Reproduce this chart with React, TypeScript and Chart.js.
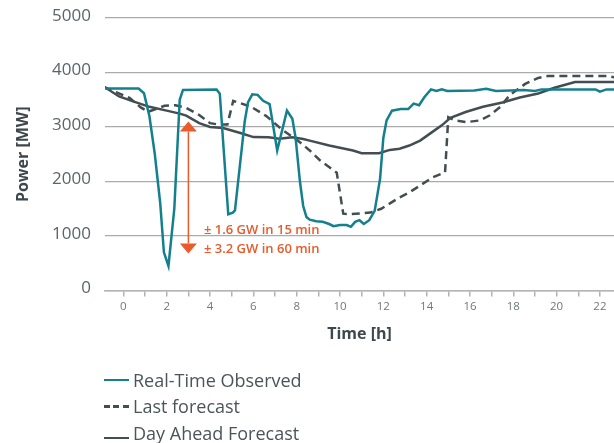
import React, { useEffect, useRef } from "react";
import { Chart, registerables } from "chart.js";

Chart.register(...registerables);

// ---- Data (hours, MW) ----
const rtHours = [-0.9, 0.7, 0.95, 1.2, 1.45, 1.7, 1.87, 2.08, 2.35, 2.6, 2.75, 4.3, 4.45, 4.6, 4.84, 5.05, 5.15, 5.6, 5.75, 5.95, 6.2, 6.45, 6.75, 7.1, 7.55, 7.8, 7.95, 8.15, 8.3, 8.45, 8.6, 8.9, 9.2, 9.5, 9.7, 10.0, 10.3, 10.5, 10.7, 10.9, 11.1, 11.35, 11.6, 11.85, 12.0, 12.15, 12.4, 12.8, 13.15, 13.4, 13.65, 13.9, 14.2, 14.45, 14.7, 14.95, 16.2, 16.75, 17.2, 18.5, 19.0, 19.3, 21.8, 22.0, 22.3, 22.7];
const rtValues = [3705, 3705, 3620, 3200, 2500, 1600, 700, 450, 1500, 3500, 3680, 3690, 3610, 2750, 1400, 1430, 1470, 3100, 3450, 3600, 3590, 3480, 3420, 2570, 3300, 3150, 2800, 2000, 1550, 1350, 1300, 1270, 1260, 1220, 1180, 1200, 1200, 1170, 1260, 1290, 1220, 1290, 1460, 2050, 2800, 3120, 3300, 3330, 3330, 3430, 3400, 3550, 3690, 3660, 3690, 3660, 3670, 3700, 3660, 3680, 3660, 3690, 3690, 3650, 3690, 3690];

const lastHours = [-0.9, 0.3, 0.8, 1.15, 1.9, 2.4, 2.9, 3.5, 4.0, 4.4, 4.8, 5.07, 5.9, 6.6, 7.3, 8.15, 8.6, 9.07, 9.85, 10.15, 10.5, 11.4, 11.9, 12.76, 13.2, 14.3, 14.85, 15.0, 15.3, 15.85, 16.45, 16.9, 17.4, 17.85, 18.55, 19.15, 19.6, 22.3, 22.7];
const lastValues = [3735, 3530, 3360, 3280, 3390, 3400, 3350, 3220, 3070, 3045, 3045, 3480, 3370, 3200, 2960, 2720, 2570, 2390, 2160, 1410, 1400, 1430, 1500, 1710, 1800, 2080, 2170, 3180, 3120, 3090, 3120, 3210, 3370, 3590, 3790, 3900, 3935, 3935, 3910];

const dayAheadHours = [-0.9, -0.2, 0.45, 1.2, 2.0, 2.6, 2.9, 3.5, 4.0, 4.6, 5.4, 6.0, 6.7, 7.2, 7.8, 8.3, 8.6, 9.5, 10.6, 11.0, 11.8, 12.3, 12.75, 13.2, 13.7, 14.3, 14.7, 15.1, 15.8, 16.6, 17.5, 18.3, 19.15, 19.9, 20.85, 22.7];
const dayAheadValues = [3740, 3560, 3470, 3370, 3300, 3245, 3210, 3070, 3000, 2980, 2890, 2815, 2810, 2785, 2810, 2780, 2750, 2660, 2570, 2520, 2520, 2580, 2600, 2660, 2750, 2920, 3030, 3170, 3275, 3370, 3450, 3540, 3615, 3720, 3827, 3827];

const seriesNames = ["Real-Time Observed", "Last forecast", "Day Ahead Forecast"];
const yTicks = [0, 1000, 2000, 3000, 4000, 5000];

// Annotation (data coordinates)
const arrowHour = 3.0;
const arrowTop = 3100;
const arrowBottom = 680;
const noteHour = 3.72;
const noteLines = ["± 1.6 GW in 15 min", "± 3.2 GW in 60 min"];
const noteValues = [1110, 760];

const TEAL = "#14808d";
const DARK = "#434e53";
const ORANGE = "#ea5a2a";
const FONT = "'Open Sans', 'DejaVu Sans', sans-serif";

const toPoints = (xs: number[], ys: number[]) => xs.map((x, i) => ({ x, y: ys[i] }));

const annotationPlugin = {
  id: "arrowNote",
  afterDatasetsDraw(chart: any) {
    const { ctx, scales } = chart;
    const x = scales.x.getPixelForValue(arrowHour);
    const yTop = scales.y.getPixelForValue(arrowTop);
    const yBot = scales.y.getPixelForValue(arrowBottom);
    const hw = 8.5;
    const hh = 10;
    ctx.save();
    ctx.strokeStyle = ORANGE;
    ctx.fillStyle = ORANGE;
    ctx.lineWidth = 1.5;
    ctx.beginPath();
    ctx.moveTo(x, yTop + hh);
    ctx.lineTo(x, yBot - hh);
    ctx.stroke();
    ctx.beginPath();
    ctx.moveTo(x, yTop);
    ctx.lineTo(x - hw, yTop + hh);
    ctx.lineTo(x + hw, yTop + hh);
    ctx.closePath();
    ctx.fill();
    ctx.beginPath();
    ctx.moveTo(x, yBot);
    ctx.lineTo(x - hw, yBot - hh);
    ctx.lineTo(x + hw, yBot - hh);
    ctx.closePath();
    ctx.fill();
    ctx.font = `600 13px ${FONT}`;
    ctx.textAlign = "left";
    ctx.textBaseline = "middle";
    const tx = scales.x.getPixelForValue(noteHour);
    noteLines.forEach((t, i) => {
      ctx.fillText(t, tx, scales.y.getPixelForValue(noteValues[i]));
    });
    ctx.restore();
  },
};

export default function App() {
  const ref = useRef<HTMLCanvasElement | null>(null);
  useEffect(() => {
    if (!ref.current) return;
    const chart = new Chart(ref.current, {
      type: "line",
      data: {
        datasets: [
          {
            label: seriesNames[0],
            data: toPoints(rtHours, rtValues),
            borderColor: TEAL,
            borderWidth: 2.5,
            pointRadius: 0,
            tension: 0,
          },
          {
            label: seriesNames[1],
            data: toPoints(lastHours, lastValues),
            borderColor: DARK,
            borderWidth: 2.5,
            borderDash: [8, 5],
            pointRadius: 0,
            tension: 0,
          },
          {
            label: seriesNames[2],
            data: toPoints(dayAheadHours, dayAheadValues),
            borderColor: DARK,
            borderWidth: 2.5,
            pointRadius: 0,
            tension: 0,
          },
        ],
      },
      options: {
        responsive: false,
        animation: false,
        devicePixelRatio: 1,
        layout: { padding: { left: 0, right: 0, top: 18, bottom: 97.5 } },
        plugins: { legend: { display: false }, tooltip: { enabled: false } },
        scales: {
          x: {
            type: "linear",
            min: -0.85,
            max: 22.65,
            afterFit: (s: any) => {
              s.height = 55;
              s.paddingLeft = 0;
              s.paddingRight = 0;
            },
            border: { display: true, color: "#b3b3b3", width: 1.5 },
            grid: { drawOnChartArea: false, drawTicks: true, tickLength: 6, color: "#b3b3b3", lineWidth: 1.5 },
            ticks: {
              stepSize: 1,
              includeBounds: false,
              autoSkip: false,
              maxRotation: 0,
              padding: 3,
              color: "#6f787c",
              font: { family: FONT, size: 11.5 },
              callback: (v: any) => (Number(v) % 2 === 0 ? String(v) : ""),
            },
            title: {
              display: true,
              text: "Time [h]",
              color: "#3d474c",
              font: { family: FONT, size: 16, weight: "bold" },
              padding: { top: 4, bottom: 1 },
            },
          },
          y: {
            min: 0,
            max: 5000,
            afterFit: (s: any) => {
              s.width = 105;
              s.paddingTop = 0;
              s.paddingBottom = 0;
            },
            afterBuildTicks: (s: any) => {
              s.ticks = yTicks.map((v) => ({ value: v }));
            },
            border: { display: false },
            grid: { color: "#ababab", lineWidth: 1.3, drawTicks: false },
            ticks: {
              padding: 14,
              labelOffset: -2,
              color: "#5b6569",
              font: { family: FONT, size: 17 },
              callback: (v: any) => String(v),
            },
            title: {
              display: true,
              text: "Power [MW]",
              color: "#3d474c",
              font: { family: FONT, size: 16, weight: "bold" },
              padding: { top: 14, bottom: 0 },
            },
          },
        },
      },
      plugins: [annotationPlugin],
    });
    return () => chart.destroy();
  }, []);

  const legendRow = (top: number, swatch: React.ReactNode, text: string) => (
    <div style={{ position: "absolute", left: 104, top: top - 12, height: 24, display: "flex", alignItems: "center" }}>
      <div style={{ width: 25, height: 24, position: "relative" }}>{swatch}</div>
      <span style={{ marginLeft: 4, fontFamily: FONT, fontSize: 18, color: "#4b5559", lineHeight: "24px" }}>{text}</span>
    </div>
  );

  return (
    <div style={{ position: "fixed", left: 0, top: 0, width: 614, height: 443, background: "#fff", overflow: "hidden" }}>
      <canvas ref={ref} width={614} height={443} style={{ width: 614, height: 443, display: "block" }} />
      {legendRow(379.5, <div style={{ position: "absolute", left: 0, top: 11, width: 25, height: 2.5, background: TEAL }} />, seriesNames[0])}
      {legendRow(406, <div style={{ position: "absolute", left: 0, top: 11, width: 25, height: 2.5, backgroundImage: `repeating-linear-gradient(to right, ${DARK} 0 6px, transparent 6px 9.5px)` }} />, seriesNames[1])}
      {legendRow(432.5, <div style={{ position: "absolute", left: 0, top: 16, width: 25, height: 2.5, background: DARK }} />, seriesNames[2])}
    </div>
  );
}
